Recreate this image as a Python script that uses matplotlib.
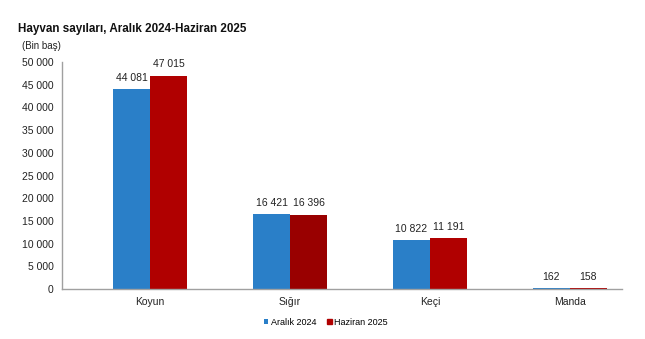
import matplotlib.pyplot as plt
import numpy as np

plt.rcParams['font.family'] = ['Liberation Sans', 'DejaVu Sans']

kategoriler = ['Koyun', 'Sığır', 'Keçi', 'Manda']
aralik_2024 = [44081, 16421, 10822, 162]
haziran_2025 = [47015, 16396, 11191, 158]
haziran_renkler = ['#b00000', '#990000', '#b00000', '#b00000']
y_ticks = [0, 5000, 10000, 15000, 20000, 25000, 30000, 35000, 40000, 45000, 50000]


def fmt(v):
    return f'{v:,}'.replace(',', ' ')


fig = plt.figure(figsize=(6.45, 3.39), dpi=100)
ax = fig.add_axes([0.0961, 0.1475, 0.868, 0.6696])

x = np.arange(len(kategoriler))
w = 0.264
b1 = ax.bar(x - w / 2, aralik_2024, w, color='#2a7fc8', label='Aralık 2024')
b2 = ax.bar(x + w / 2, haziran_2025, w, color=haziran_renkler, label='Haziran 2025')

for bars, vals in ((b1, aralik_2024), (b2, haziran_2025)):
    for bar, v in zip(bars, vals):
        ax.text(bar.get_x() + bar.get_width() / 2, v + 1400, fmt(v),
                ha='center', va='bottom', fontsize=7.5, color='#222222')

ax.set_xlim(-0.629, len(kategoriler) - 0.629)
ax.set_ylim(0, 50000)
ax.set_yticks(y_ticks)
ax.set_yticklabels([fmt(t) for t in y_ticks], fontsize=7.5, color='#222222')
ax.set_xticks(x)
ax.set_xticklabels(kategoriler, fontsize=7.5, color='#222222')
ax.tick_params(length=0, pad=6)

for s in ('top', 'right'):
    ax.spines[s].set_visible(False)
for s in ('left', 'bottom'):
    ax.spines[s].set_color('#a0a0a0')
    ax.spines[s].set_linewidth(1)

fig.text(0.028, 0.905, 'Hayvan sayıları, Aralık 2024-Haziran 2025',
         fontsize=8.4, fontweight='bold', color='#111111')
fig.text(0.034, 0.855, '(Bin baş)', fontsize=7, color='#222222')

leg = fig.legend(loc='center', bbox_to_anchor=(0.505, 0.05), ncol=2, frameon=False,
                 fontsize=6.5, handlelength=0.5, handleheight=0.5,
                 handletextpad=0.3, columnspacing=1.2)
leg.legend_handles[1].set_color('#b00000')

fig.savefig('out.png', dpi=100)
